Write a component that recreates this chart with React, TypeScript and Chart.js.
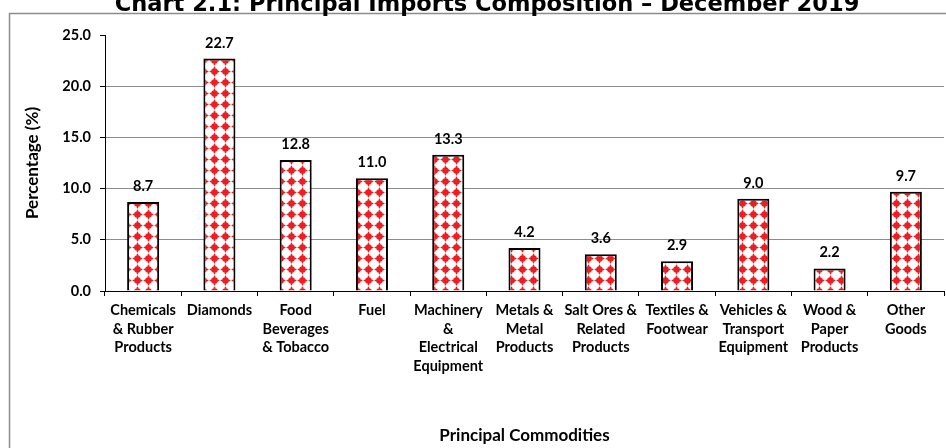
import React, { useEffect, useRef } from "react";
import { Chart, registerables } from "chart.js";

Chart.register(...registerables);

const chartTitle = "Chart 2.1: Principal Imports Composition \u2013 December 2019";
const categories: string[][] = [
  ["Chemicals", "& Rubber", "Products"],
  ["Diamonds"],
  ["Food", "Beverages", "& Tobacco"],
  ["Fuel"],
  ["Machinery", "&", "Electrical", "Equipment"],
  ["Metals &", "Metal", "Products"],
  ["Salt Ores &", "Related", "Products"],
  ["Textiles &", "Footwear"],
  ["Vehicles &", "Transport", "Equipment"],
  ["Wood &", "Paper", "Products"],
  ["Other", "Goods"],
];
const shares: number[] = [8.7, 22.7, 12.8, 11.0, 13.3, 4.2, 3.6, 2.9, 9.0, 2.2, 9.7];
const yTicks: number[] = [0, 5, 10, 15, 20, 25];
const yTitle = "Percentage (%)";
const xTitle = "Principal Commodities";

const FONT = "Lato, 'Open Sans', sans-serif";

function makePattern(): CanvasPattern | string {
  const c = document.createElement("canvas");
  const s = 11;
  c.width = s;
  c.height = s;
  const g = c.getContext("2d");
  if (!g) return "#ee2222";
  g.fillStyle = "#ffffff";
  g.fillRect(0, 0, s, s);
  const cx = s / 2;
  g.strokeStyle = "rgba(236,30,36,0.35)";
  g.lineWidth = 1;
  g.beginPath();
  g.moveTo(0, cx);
  g.lineTo(s, cx);
  g.moveTo(cx, 0);
  g.lineTo(cx, s);
  g.stroke();
  g.fillStyle = "#ec1e24";
  g.fillRect(cx - 0.75, cx - 4.5, 1.5, 9);
  g.fillRect(cx - 4.5, cx - 0.75, 9, 1.5);
  g.beginPath();
  g.arc(cx, cx, 3.3, 0, Math.PI * 2);
  g.fill();
  const p = g.createPattern(c, "repeat");
  return p || "#ee2222";
}

const framePlugin = {
  id: "frame",
  beforeDraw(chart: any) {
    const ctx = chart.ctx;
    ctx.save();
    ctx.fillStyle = "#ffffff";
    ctx.fillRect(0, 0, chart.width, chart.height);
    ctx.strokeStyle = "#8c8c8c";
    ctx.lineWidth = 1.5;
    ctx.beginPath();
    ctx.moveTo(9.5, chart.height + 2);
    ctx.lineTo(9.5, 13.5);
    ctx.lineTo(chart.width + 2, 13.5);
    ctx.stroke();
    // title (partly clipped at top)
    ctx.fillStyle = "#000000";
    ctx.textAlign = "center";
    ctx.textBaseline = "alphabetic";
    let size = 22;
    ctx.font = `bold ${size}px 'DejaVu Sans', sans-serif`;
    const w = ctx.measureText(chartTitle).width;
    size = size * (745 / w);
    ctx.font = `bold ${size}px 'DejaVu Sans', sans-serif`;
    ctx.fillText(chartTitle, 487, 11);
    ctx.restore();
  },
};

const labelPlugin = {
  id: "valueLabels",
  afterDatasetsDraw(chart: any) {
    const ctx = chart.ctx;
    const meta = chart.getDatasetMeta(0);
    ctx.save();
    ctx.fillStyle = "#000000";
    ctx.font = `bold 14.5px ${FONT}`;
    ctx.textAlign = "center";
    ctx.textBaseline = "alphabetic";
    meta.data.forEach((el: any, i: number) => {
      ctx.fillText(shares[i].toFixed(1), el.x, el.y - 11);
    });
    ctx.restore();
  },
};

export default function App() {
  const ref = useRef<HTMLCanvasElement | null>(null);
  useEffect(() => {
    if (!ref.current) return;
    const pattern = makePattern();
    const chart = new Chart(ref.current, {
      type: "bar",
      data: {
        labels: categories,
        datasets: [
          {
            data: shares,
            backgroundColor: pattern as any,
            borderColor: "#000000",
            borderWidth: 2,
            categoryPercentage: 1,
            barPercentage: 0.42,
          },
        ],
      },
      options: {
        animation: false,
        responsive: false,
        layout: { padding: { left: 22, right: 2, top: 35, bottom: 2 } },
        plugins: {
          legend: { display: false },
          tooltip: { enabled: false },
          title: { display: false },
        },
        scales: {
          x: {
            grid: {
              offset: true,
              drawOnChartArea: false,
              tickLength: 5,
              color: "#000000",
            },
            border: { display: true, color: "#000000", width: 1 },
            ticks: {
              color: "#000000",
              font: { family: FONT, size: 14.5, weight: "bold", lineHeight: 1.28 },
              padding: 5,
              maxRotation: 0,
              autoSkip: false,
            },
            title: {
              display: true,
              text: xTitle,
              color: "#000000",
              font: { family: FONT, size: 17, weight: "bold" },
              padding: { top: 0, bottom: 0 },
            },
            afterFit: (s: any) => {
              s.height = 448 - 291 - 2;
            },
          },
          y: {
            min: 0,
            max: 25,
            afterBuildTicks: (s: any) => {
              s.ticks = yTicks.map((v) => ({ value: v }));
            },
            grid: {
              color: (c: any) => (c.tick && c.tick.value === 25 ? "rgba(0,0,0,0)" : "#8c8c8c"),
              tickColor: "#000000",
              tickLength: 5,
              lineWidth: 1,
            },
            border: { display: true, color: "#000000", width: 1 },
            ticks: {
              color: "#000000",
              font: { family: FONT, size: 14.5, weight: "bold" },
              padding: 9,
              callback: (v: any) => Number(v).toFixed(1),
            },
            title: {
              display: true,
              text: yTitle,
              color: "#000000",
              font: { family: FONT, size: 17, weight: "bold" },
              padding: { top: 0, bottom: 0 },
            },
            afterFit: (s: any) => {
              s.width = 105 - 22;
            },
          },
        },
      },
      plugins: [framePlugin, labelPlugin],
    });
    return () => chart.destroy();
  }, []);
  return (
    <div style={{ position: "fixed", left: 0, top: 0, width: 946, height: 448, background: "#fff" }}>
      <canvas ref={ref} width={946} height={448} style={{ width: 946, height: 448, display: "block" }} />
    </div>
  );
}
